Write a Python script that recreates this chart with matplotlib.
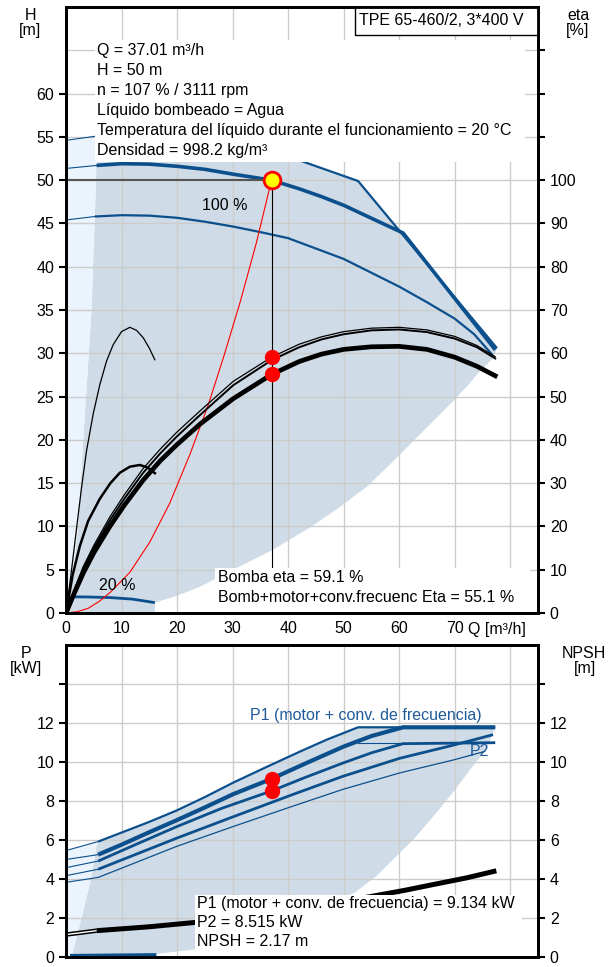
import matplotlib.pyplot as plt
from matplotlib.patches import Rectangle
from matplotlib.ticker import FixedLocator

plt.rcParams['font.family'] = ['Liberation Sans', 'DejaVu Sans']
plt.rcParams['font.size'] = 11.5

BLUE = '#0b4f8c'
AREA = '#cfdbe6'
LIGHT = '#ebf4fc'
GRID = '#cccccc'

# ---------------- data: head chart ----------------
q_op, h_op = 37.01, 50
eta_pump_op, eta_tot_op = 59.1, 55.1
p1_op, p2_op = 9.134, 8.515

hmax_q = [0, 5.6, 15, 25, 35, 43.3, 52.6, 77.6]
hmax_h = [54.6, 55.1, 55.6, 55.3, 54.0, 52.0, 49.9, 30.6]

h100_q = [0, 5.5, 10, 15, 20, 25, 30, 37.01, 42, 46, 50, 54, 57, 60.7, 77.3]
h100_h = [51.35, 51.7, 51.9, 51.85, 51.6, 51.25, 50.7, 50.0, 49.0, 48.1, 47.1,
          45.9, 45.0, 43.9, 30.4]

h90_q = [0, 5.2, 10, 15, 20, 25, 30, 35, 40, 45, 50, 55, 60, 65, 70, 73.5, 76.8]
h90_h = [45.4, 45.8, 45.95, 45.9, 45.65, 45.2, 44.65, 44.0, 43.3, 42.1, 40.9,
         39.3, 37.7, 35.9, 34.0, 32.2, 29.8]

h20_q = [0, 1, 4, 8, 12, 16]
h20_h = [1.88, 1.87, 1.85, 1.78, 1.6, 1.2]

area_low_q = [77.0, 74.6, 72.5, 69.9, 66.5, 63.2, 60, 54.2, 49, 44, 37, 30.1,
              27.4, 24, 20, 16, 16, 0.4]
area_low_h = [29.5, 28.0, 26.4, 24.6, 22.4, 20.3, 18.2, 14.6, 12.1, 9.9, 7.2,
              5.0, 4.1, 3.0, 2.0, 1.2, 0, 0]
area_left_q = [0.4, 2.2, 3.1, 4.6, 5.4, 5.6]
area_left_h = [0, 10, 20, 35, 50, 55.1]

sys_q = [0, 2, 4, 6, 8, 11.5, 15.1, 18.7, 22.3, 25.6, 28.3, 31.4, 34.3, 37.01]
sys_h = [0, 0.15, 0.54, 1.35, 2.4, 4.7, 8.2, 12.7, 18.3, 24.0, 29.4, 36.0,
         42.8, 50]

eta_q = [0, 1.5, 3.1, 5, 7.9, 10.5, 13.9, 17, 19.9, 24.1, 30.1, 37.01, 42, 46,
         50, 55, 60, 65, 70, 74, 77.3]
eta_pump = [0, 5.5, 10.7, 15.6, 22.2, 27.3, 33.4, 37.9, 41.7, 46.65, 53.5,
            59.1, 62.1, 63.8, 65.0, 65.8, 66.0, 65.4, 63.9, 61.8, 59.2]
eta_pump_b = [0, 5.2, 10.2, 15.0, 21.4, 26.4, 32.4, 36.9, 40.7, 45.7, 52.6,
              58.4, 61.4, 63.2, 64.4, 65.3, 65.5, 64.9, 63.4, 61.4, 58.8]
eta_tot = [0, 4.6, 9.2, 13.9, 20.0, 24.9, 30.7, 35.2, 38.8, 43.6, 49.5, 55.1,
           58.1, 59.8, 60.9, 61.5, 61.6, 60.9, 59.1, 57.0, 54.8]

eta_low_q = [0, 1, 1.9, 2.8, 3.7, 4.9, 6.1, 7.3, 8.5, 10, 11.5, 12.7, 13.9, 15, 16]
eta_low_pump = [0, 10, 19.5, 29, 37.5, 46.0, 52.8, 58.2, 62.0, 65.0, 66.0,
                65.3, 63.6, 61.2, 58.5]
eta_low_tot_q = [0, 1.2, 2.5, 4, 6.1, 8, 9.7, 11.5, 13.3, 14.7, 16]
eta_low_tot = [0, 8.8, 15.5, 21.3, 26.4, 30.0, 32.4, 33.8, 34.2, 33.6, 32.3]

# ---------------- data: power chart ----------------
p1max_q = [0, 5.8, 10, 15, 19.9, 25, 30.1, 36, 42.1, 47, 52.6, 77.3]
p1max = [5.46, 5.92, 6.38, 6.93, 7.51, 8.2, 8.94, 9.73, 10.53, 11.15, 11.78, 11.78]
p1_q = [0, 5.8, 10, 15, 19.9, 25, 30.1, 37.01, 43, 49.9, 55, 60.7, 77.3]
p1 = [5.0, 5.25, 5.76, 6.4, 7.01, 7.67, 8.35, 9.134, 9.91, 10.78, 11.33, 11.78, 11.78]
p2_q = [0, 5.8, 12, 19.9, 28, 37.01, 43, 49.9, 55, 60.7, 77.3]
p2 = [4.58, 4.92, 5.7, 6.68, 7.62, 8.515, 9.2, 9.95, 10.47, 10.94, 10.99]
p1_low_q = [0, 5.8, 19.9, 30, 41, 49.9, 60.1, 69.7, 76.9]
p1_low = [4.17, 4.5, 6.09, 7.18, 8.35, 9.27, 10.19, 10.86, 11.4]
p2_low_q = [0, 5.8, 19.9, 30, 41, 49.9, 60.1, 69.7, 75.5]
p2_low = [3.83, 4.08, 5.67, 6.68, 7.75, 8.6, 9.44, 10.1, 10.55]
p2max_flat_q = [52.6, 60.7]
p2max_flat = [10.95, 10.95]
p20_q = [1, 16]
p20 = [0.08, 0.12]

parea_low_q = [77.3, 76.5, 75.8, 73, 70.4, 68, 65.5, 62.8, 60.1, 58, 56, 52,
               46, 40, 32, 23.5, 16, 1.0]
parea_low = [11.78, 11.2, 10.7, 9.7, 8.7, 7.85, 7.0, 6.1, 5.34, 4.75, 4.17,
             3.3, 2.55, 1.95, 1.2, 0.4, 0.15, 0]
parea_left_q = [1.0, 2.8, 4.5, 5.5, 5.8]
parea_left = [0, 2, 4, 5.7, 5.92]

npsh_q = [0, 5.5, 15, 23.5, 30, 35, 40, 45, 50, 56, 61, 66.2, 72, 77.5]
npsh = [1.15, 1.35, 1.55, 1.78, 2.0, 2.2, 2.4, 2.62, 2.85, 3.16, 3.42, 3.72,
        4.05, 4.42]

info_lines = ['Q = 37.01 m³/h', 'H = 50 m', 'n = 107 % / 3111 rpm',
              'Líquido bombeado = Agua',
              'Temperatura del líquido durante el funcionamiento = 20 °C',
              'Densidad = 998.2 kg/m³']
eta_lines = ['Bomba eta = 59.1 %', 'Bomb+motor+conv.frecuenc Eta = 55.1 %']
pow_lines = ['P1 (motor + conv. de frecuencia) = 9.134 kW', 'P2 = 8.515 kW',
             'NPSH = 2.17 m']


def style(a, ymax, ticks, nlab, grid_extra):
    a.set_xlim(0, 85)
    a.set_ylim(0, ymax)
    a.set_xticks(range(0, 81, 10))
    a.set_yticks(ticks)
    a.set_yticklabels([str(t) if t <= nlab else '' for t in ticks])
    a.yaxis.set_minor_locator(FixedLocator(grid_extra))
    a.tick_params(which='minor', length=0)
    a.tick_params(axis='y', direction='out', length=5, width=1.5)
    a.tick_params(axis='x', length=0, pad=6)
    a.grid(True, which='both', color=GRID, lw=1)
    a.set_axisbelow(True)
    for s in a.spines.values():
        s.set_linewidth(2)


def curve(a, q, v, lw, color=BLUE):
    # thin part left of the minimum flow, normal width after it
    a.plot(q[:2], v[:2], color=color, lw=0.8, zorder=2)
    a.plot(q[1:], v[1:], color=color, lw=lw, zorder=2, solid_capstyle='butt')


fig = plt.figure(figsize=(6.14, 9.67), dpi=100)

# ================= head / efficiency =================
ax = fig.add_axes([66 / 614, 1 - 613 / 967, 472 / 614, 606 / 967])
style(ax, 70, list(range(0, 61, 5)), 60, [65])
ax.set_xticklabels([str(v) for v in range(0, 71, 10)] + [''])

ax.fill(hmax_q[1:] + area_low_q + area_left_q,
        hmax_h[1:] + area_low_h + area_left_h, color=AREA, lw=0, zorder=0.2)
ax.fill([0] + area_left_q + [0], [0] + area_left_h + [hmax_h[0]],
        color=LIGHT, lw=0, zorder=0.2)

curve(ax, hmax_q, hmax_h, 1.6)
curve(ax, h90_q, h90_h, 1.6)
curve(ax, h100_q, h100_h, 2.6)
curve(ax, h20_q, h20_h, 2.0)

ax.plot([0, q_op], [h_op, h_op], color='#555555', lw=1.5, zorder=2)
ax.plot([q_op, q_op], [0, h_op], color='black', lw=0.8, zorder=2)
ax.plot(sys_q, sys_h, color='red', lw=0.8, zorder=2.5)
ax.plot(q_op, h_op, 'o', ms=12, mfc='#ffff00', mec='red', mew=2, zorder=4)

ax.text(28.5, 47.1, '100 %', ha='center', va='center', zorder=3)
ax.text(9.2, 3.2, '20 %', ha='center', va='center', zorder=3)

ax.add_patch(Rectangle((0.0614, 0.7442), 0.911, 0.2013, transform=ax.transAxes,
                       fc='white', ec='none', zorder=5))
for i, t in enumerate(info_lines):
    ax.text(0.0657, 0.929 - i * 0.033, t, transform=ax.transAxes,
            va='center', zorder=6)

ax.add_patch(Rectangle((0.6123, 0.9538), 0.3877, 0.0462, transform=ax.transAxes,
                       fc='white', ec='black', lw=1, zorder=5))
ax.text(0.6208, 0.978, 'TPE 65-460/2, 3*400 V', transform=ax.transAxes,
        va='center', zorder=6)

ax.add_patch(Rectangle((0.3157, 0.002), 0.667, 0.0723, transform=ax.transAxes,
                       fc='white', ec='none', zorder=5))
for i, t in enumerate(eta_lines):
    ax.text(0.322, 0.0578 - i * 0.033, t, transform=ax.transAxes,
            va='center', zorder=6)

ax.text(0.8517, -0.028, 'Q [m³/h]', transform=ax.transAxes, va='center')

ax2 = ax.twinx()
ax2.set_ylim(0, 140)
ax2.set_yticks(range(0, 131, 10))
ax2.set_yticklabels([str(v) if v <= 100 else '' for v in range(0, 131, 10)])
ax2.tick_params(axis='y', direction='out', length=5, width=1.5)
for s in ax2.spines.values():
    s.set_linewidth(2)

ax2.plot(eta_q, eta_pump, color='black', lw=0.9)
ax2.plot(eta_q, eta_pump_b, color='black', lw=1.4)
ax2.plot(eta_q, eta_tot, color='black', lw=3.4)
ax2.plot(eta_low_q, eta_low_pump, color='black', lw=0.9)
ax2.plot(eta_low_tot_q, eta_low_tot, color='black', lw=1.8)
ax2.plot([q_op, q_op], [eta_pump_op, eta_tot_op], 'o', color='red', ms=10, zorder=4)

# ================= power / NPSH =================
bx = fig.add_axes([66 / 614, 1 - 957 / 967, 472 / 614, 312 / 967])
style(bx, 16, list(range(0, 15, 2)), 12, [])
bx.set_xticklabels([])

bx.fill(p1max_q[1:] + parea_low_q + parea_left_q,
        p1max[1:] + parea_low + parea_left, color=AREA, lw=0, zorder=0.2)
bx.fill([0] + parea_left_q + [0], [0] + parea_left + [p1max[0]],
        color=LIGHT, lw=0, zorder=0.2)

curve(bx, p2_low_q, p2_low, 0.9)
curve(bx, p1_low_q, p1_low, 2.0)
curve(bx, p2_q, p2, 2.0)
curve(bx, p1max_q, p1max, 1.6)
curve(bx, p1_q, p1, 3.0)
bx.plot(p2max_flat_q, p2max_flat, color=BLUE, lw=0.8)
bx.plot(p20_q, p20, color=BLUE, lw=2.2)

bx.plot([q_op, q_op], [p1_op, p2_op], 'o', color='red', ms=10, zorder=4)
bx.text(33.1, 12.4, 'P1 (motor + conv. de frecuencia)', color='#1f5b99',
        va='center')
bx.text(72.7, 10.56, 'P2', color='#1f5b99', va='center')

bx2 = bx.twinx()
bx2.set_ylim(0, 16)
bx2.set_yticks(range(0, 15, 2))
bx2.set_yticklabels([str(v) if v <= 12 else '' for v in range(0, 15, 2)])
bx2.tick_params(axis='y', direction='out', length=5, width=1.5)
for s in bx2.spines.values():
    s.set_linewidth(2)

bx2.plot(npsh_q[:2], npsh[:2], color='black', lw=3.2, solid_capstyle='butt')
bx2.plot(npsh_q[:2], npsh[:2], color='white', lw=1.0)
bx2.plot(npsh_q[1:], npsh[1:], color='black', lw=3.6, solid_capstyle='butt')

bx2.add_patch(Rectangle((0.2733, 0.004), 0.6927, 0.196, transform=bx2.transAxes,
                        fc='white', ec='none', zorder=5))
for i, t in enumerate(pow_lines):
    bx2.text(0.2775, 0.172 - i * 0.061, t, transform=bx2.transAxes,
             va='center', zorder=6)

# axis titles
fig.text(30 / 614, 1 - 15 / 967, 'H', ha='center', va='center')
fig.text(30 / 614, 1 - 31 / 967, '[m]', ha='center', va='center')
fig.text(578 / 614, 1 - 15 / 967, 'eta', ha='center', va='center')
fig.text(578 / 614, 1 - 31 / 967, '[%]', ha='center', va='center')
fig.text(26 / 614, 1 - 653 / 967, 'P', ha='center', va='center')
fig.text(26 / 614, 1 - 669 / 967, '[kW]', ha='center', va='center')
fig.text(584 / 614, 1 - 653 / 967, 'NPSH', ha='center', va='center')
fig.text(585 / 614, 1 - 669 / 967, '[m]', ha='center', va='center')

fig.savefig('out.png', dpi=100)
